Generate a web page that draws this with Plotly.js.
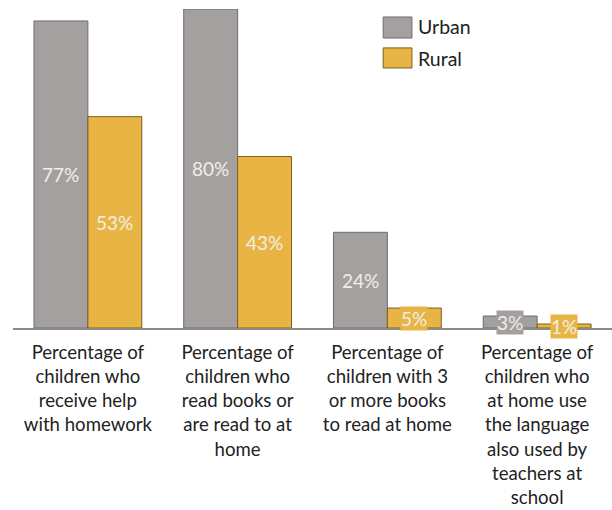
<!DOCTYPE html>
<html>
<head>
<meta charset="utf-8">
<script src="https://cdn.plot.ly/plotly-3.0.1.min.js"></script>
<style>html,body{margin:0;padding:0;background:#fff;}#chart{width:612px;height:510px;}</style>
</head>
<body>
<div id="chart"></div>
<script>
const categories = [
  "Percentage of<br>children who<br>receive help<br>with homework",
  "Percentage of<br>children who<br>read books or<br>are read to at<br>home",
  "Percentage of<br>children with 3<br>or more books<br>to read at home",
  "Percentage of<br>children who<br>at home use<br>the language<br>also used by<br>teachers at<br>school"
];
const seriesNames = ["Urban", "Rural"];
const urbanValues = [77, 80, 24, 3];
const ruralValues = [53, 43, 5, 1];

const fills = ["#a5a0a0", "#e8b544"];
const borders = ["#6f6b6b", "#7d5e1c"];
const FONT = "Lato, 'Open Sans', sans-serif";

const allValues = [urbanValues, ruralValues];
const traces = allValues.map((vals, i) => ({
  type: "bar",
  name: seriesNames[i],
  x: categories,
  y: vals,
  marker: {color: fills[i], line: {color: borders[i], width: 1}},
  hoverinfo: "none",
  cliponaxis: false,
  showlegend: false
}));

const annotations = [];
allValues.forEach((vals, i) => {
  vals.forEach((v, j) => {
    annotations.push({
      x: categories[j], y: v / 2, xref: "x", yref: "y",
      xshift: i === 0 ? -27 : 27,
      text: v + "%", showarrow: false,
      font: {family: FONT, size: 19, color: "#f1eee8"},
      bgcolor: fills[i], borderpad: 0
    });
  });
});
// legend
const legendY = [[0.975, 0.909, 0.944], [0.878, 0.815, 0.846]];
const shapes = [];
seriesNames.forEach((n, i) => {
  shapes.push({type: "rect", xref: "paper", yref: "paper", x0: 0.618, x1: 0.666,
    y0: legendY[i][1], y1: legendY[i][0], fillcolor: fills[i], line: {color: borders[i], width: 1}});
  annotations.push({xref: "paper", yref: "paper", x: 0.673, y: legendY[i][2],
    xanchor: "left", yanchor: "middle", text: n, showarrow: false,
    font: {family: FONT, size: 19.5, color: "#222"}});
});

const layout = {
  width: 612, height: 510,
  margin: {l: 13, r: 0, t: 9, b: 182},
  paper_bgcolor: "#fff", plot_bgcolor: "#fff",
  barmode: "group", bargap: 0.28, bargroupgap: 0,
  showlegend: false,
  xaxis: {type: "category", range: [-0.5, 3.5], showline: true, linecolor: "#8a8a8a", linewidth: 1.5,
    ticks: "", showgrid: false, zeroline: false, fixedrange: true, ticklabelstandoff: 7,
    tickfont: {family: FONT, size: 18.6, color: "#222"}, tickangle: 0},
  yaxis: {range: [0, 80], visible: false, showgrid: false, zeroline: false, fixedrange: true},
  annotations: annotations,
  shapes: shapes,
  font: {family: FONT}
};
Plotly.newPlot("chart", traces, layout, {displayModeBar: false, staticPlot: true});
</script>
</body>
</html>
